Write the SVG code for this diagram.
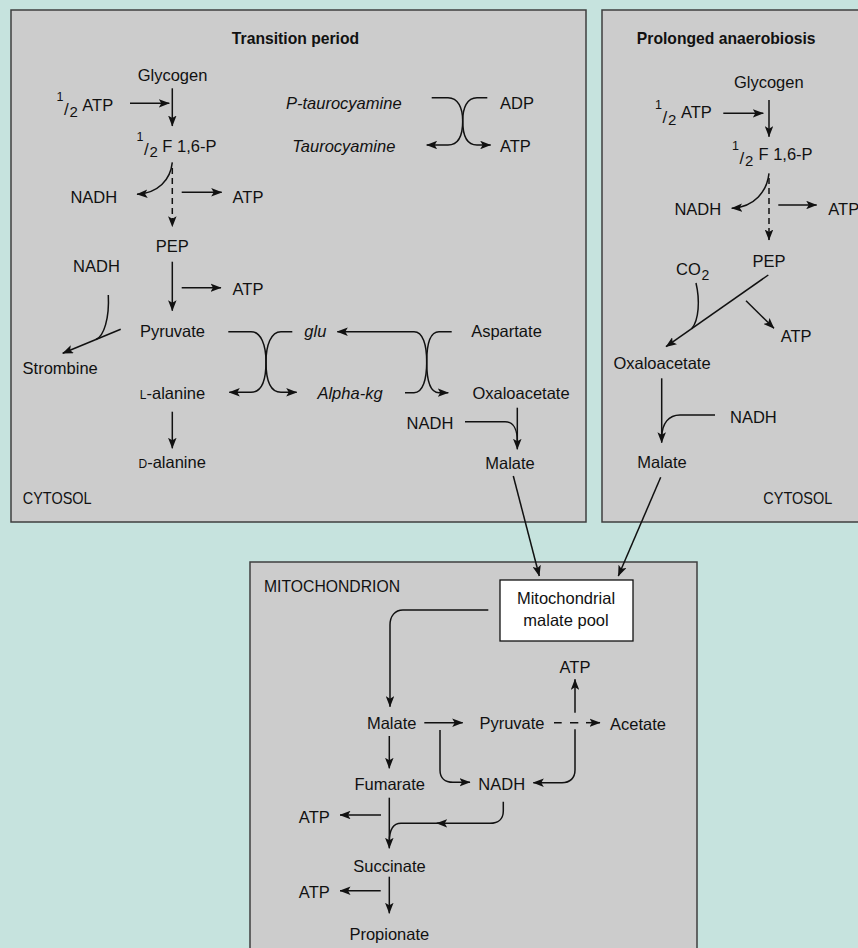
<svg xmlns="http://www.w3.org/2000/svg" width="858" height="948" viewBox="0 0 858 948">
  <style>
    text { font-family: "Liberation Sans", Arial, sans-serif; font-size: 16.5px; fill: #111; }
    .c { text-anchor: middle; }
    .it { font-style: italic; }
    .title { font-weight: bold; font-size: 15.7px; text-anchor: middle; }
    .sup { font-size: 12.5px; }
    .sl { font-size: 17px; }
    .sub { font-size: 15px; }
    .panel { fill: #cccccc; stroke: #3f3f3f; stroke-width: 1.5; }
    .ln { fill: none; stroke: #111; stroke-width: 1.5; }
    .arr { marker-end: url(#ah); }
    .dash { stroke-dasharray: 6 4; }
  </style>
  <defs>
    <marker id="ah" viewBox="0 0 11 8.5" refX="10.5" refY="4.25" markerWidth="11" markerHeight="8.5" markerUnits="userSpaceOnUse" orient="auto-start-reverse">
      <path d="M0,0 L11,4.25 L0,8.5 L2.5,4.25 Z" fill="#111"/>
    </marker>
  </defs>

  <!-- background -->
  <rect x="0" y="0" width="858" height="948" fill="#c6e3de"/>

  <!-- compartments -->
  <g id="panel-transition"><rect class="panel" x="11" y="10" width="575" height="512"/></g>
  <g id="panel-prolonged"><rect class="panel" x="602" y="10" width="270" height="512"/></g>
  <g id="panel-mitochondrion"><rect class="panel" x="250" y="562" width="447" height="400"/></g>

  <!-- ===== Transition period ===== -->
  <g id="t-title"><text class="title" x="295.5" y="44.3">Transition period</text></g>
  <g id="t-glycogen"><text class="c" x="172.5" y="81">Glycogen</text></g>
  <g id="t-halfatp">
    <text class="sup" x="56.5" y="101">1</text>
    <text class="sl" x="64" y="115">/</text>
    <text class="sub" x="69.5" y="117">2</text>
    <text x="82.3" y="111">ATP</text>
  </g>
  <g id="t-f16p">
    <text class="sup" x="136.5" y="141">1</text>
    <text class="sl" x="144" y="155">/</text>
    <text class="sub" x="149.5" y="157">2</text>
    <text x="162.3" y="151.7">F 1,6-P</text>
  </g>
  <g id="t-nadh1"><text class="c" x="93.8" y="202.7">NADH</text></g>
  <g id="t-atp1"><text class="c" x="248" y="202.7">ATP</text></g>
  <g id="t-pep"><text class="c" x="172.3" y="252">PEP</text></g>
  <g id="t-nadh2"><text class="c" x="96.5" y="271.7">NADH</text></g>
  <g id="t-atp2"><text class="c" x="248" y="295">ATP</text></g>
  <g id="t-pyruvate"><text class="c" x="172.5" y="337">Pyruvate</text></g>
  <g id="t-strombine"><text class="c" x="60.2" y="374">Strombine</text></g>
  <g id="t-lalanine"><text class="c" x="172.5" y="398.5"><tspan style="font-size:12px">L</tspan>-alanine</text></g>
  <g id="t-dalanine"><text class="c" x="172.2" y="467.7"><tspan style="font-size:12px">D</tspan>-alanine</text></g>
  <g id="t-cytosol"><text x="22.7" y="504" textLength="69" lengthAdjust="spacingAndGlyphs">CYTOSOL</text></g>
  <g id="t-ptaurocyamine"><text class="c it" x="343.8" y="109.3">P-taurocyamine</text></g>
  <g id="t-taurocyamine"><text class="c it" x="343.8" y="151.7">Taurocyamine</text></g>
  <g id="t-adp"><text x="500" y="109.3">ADP</text></g>
  <g id="t-atp3"><text x="500" y="151.7">ATP</text></g>
  <g id="t-glu"><text class="it" x="304.3" y="337">glu</text></g>
  <g id="t-alphakg"><text class="c it" x="350" y="398.5">Alpha-kg</text></g>
  <g id="t-aspartate"><text class="c" x="506.5" y="337">Aspartate</text></g>
  <g id="t-oxaloacetate"><text class="c" x="521" y="398.5">Oxaloacetate</text></g>
  <g id="t-nadh3"><text class="c" x="430" y="429.3">NADH</text></g>
  <g id="t-malate"><text class="c" x="510" y="469.3">Malate</text></g>

  <!-- ===== Prolonged anaerobiosis ===== -->
  <g id="p-title"><text class="title" x="726.2" y="44.3">Prolonged anaerobiosis</text></g>
  <g id="p-glycogen"><text class="c" x="768.8" y="88.3">Glycogen</text></g>
  <g id="p-halfatp">
    <text class="sup" x="655" y="108.5">1</text>
    <text class="sl" x="662.5" y="122.5">/</text>
    <text class="sub" x="668" y="124.5">2</text>
    <text x="681" y="118.3">ATP</text>
  </g>
  <g id="p-f16p">
    <text class="sup" x="732" y="149.5">1</text>
    <text class="sl" x="739.5" y="163.5">/</text>
    <text class="sub" x="745" y="165.5">2</text>
    <text x="758.5" y="160">F 1,6-P</text>
  </g>
  <g id="p-nadh1"><text class="c" x="697.8" y="215">NADH</text></g>
  <g id="p-atp1"><text x="828.3" y="215">ATP</text></g>
  <g id="p-pep"><text class="c" x="769" y="266.7">PEP</text></g>
  <g id="p-co2">
    <text x="676" y="275">CO</text>
    <text x="701.5" y="280" style="font-size:14px">2</text>
  </g>
  <g id="p-atp2"><text x="780.7" y="341.7">ATP</text></g>
  <g id="p-oxaloacetate"><text class="c" x="662" y="369.3">Oxaloacetate</text></g>
  <g id="p-nadh2"><text x="730" y="422.7">NADH</text></g>
  <g id="p-malate"><text class="c" x="662" y="468.3">Malate</text></g>
  <g id="p-cytosol"><text x="763.3" y="504" textLength="69" lengthAdjust="spacingAndGlyphs">CYTOSOL</text></g>

  <!-- ===== Mitochondrion ===== -->
  <g id="m-label"><text x="264" y="591.7" textLength="136" lengthAdjust="spacingAndGlyphs">MITOCHONDRION</text></g>
  <g id="m-pool">
    <rect x="500" y="580" width="133" height="61" fill="#ffffff" stroke="#111" stroke-width="1.3"/>
    <text class="c" x="566" y="604.3">Mitochondrial</text>
    <text class="c" x="566" y="626">malate pool</text>
  </g>
  <g id="m-malate"><text class="c" x="391.7" y="729.3">Malate</text></g>
  <g id="m-pyruvate"><text class="c" x="512" y="729.3">Pyruvate</text></g>
  <g id="m-acetate"><text class="c" x="638" y="730">Acetate</text></g>
  <g id="m-atp1"><text class="c" x="575" y="673.3">ATP</text></g>
  <g id="m-nadh"><text class="c" x="501.7" y="790">NADH</text></g>
  <g id="m-fumarate"><text class="c" x="389.7" y="790">Fumarate</text></g>
  <g id="m-atp2"><text class="c" x="314.3" y="823.3">ATP</text></g>
  <g id="m-succinate"><text class="c" x="389.5" y="871.7">Succinate</text></g>
  <g id="m-atp3"><text class="c" x="314.3" y="898.3">ATP</text></g>
  <g id="m-propionate"><text class="c" x="389.3" y="940">Propionate</text></g>

  <!-- ===== connectors ===== -->
  <g id="connectors">
    <!-- transition: glycolysis -->
    <path class="ln arr" d="M130,103.3 H169.3"/>
    <path class="ln arr" d="M172.3,88.3 V126"/>
    <path class="ln arr" d="M172.3,162.3 C170.5,180 158,193 137,194.3"/>
    <path class="ln dash arr" d="M172.3,168 V226.7"/>
    <path class="ln arr" d="M181.7,192.3 H221.7"/>
    <path class="ln arr" d="M172.3,261.7 V310.7"/>
    <path class="ln arr" d="M181.7,287.7 H221"/>
    <path class="ln" d="M108.3,295 C109.5,318 104,336.2 96,339.5"/>
    <path class="ln arr" d="M120.7,329.3 L62.7,353.3"/>
    <path class="ln arr" d="M172.3,411.7 V448.3"/>

    <!-- transition: phosphagen exchange -->
    <path class="ln arr" d="M431.7,97.7 H448 C458,97.7 462.7,108 462.7,121 C462.7,134 466,145 477,145 H490.7"/>
    <path class="ln arr" d="M487.3,97.7 H477 C467,97.7 462.7,108 462.7,121 C462.7,134 459,145 448,145 H426.7"/>

    <!-- transition: pyruvate / alanine transamination -->
    <path class="ln arr" d="M228.3,331.7 H251 C261,331.7 266,345 266,362 C266,379 270,392.3 281,392.3 H296.7"/>
    <path class="ln arr" d="M292.3,331.7 H281 C271,331.7 266,345 266,362 C266,379 262,392.3 251,392.3 H229.3"/>

    <!-- transition: aspartate / glutamate transamination -->
    <path class="ln" d="M337.3,331.7 H414 C423,331.7 426.7,345 426.7,362 C426.7,379 430,392.7 439,392.7 H448.3" marker-start="url(#ah)" marker-end="url(#ah)"/>
    <path class="ln" d="M451.7,331.7 H439 C430,331.7 426.7,345 426.7,362 C426.7,379 423,392.7 414,392.7 H405"/>

    <!-- transition: oxaloacetate to malate -->
    <path class="ln arr" d="M517.3,407.7 V449.3"/>
    <path class="ln" d="M465,421.7 H505 C513,421.7 517.3,429 517.3,441"/>

    <!-- prolonged: glycolysis -->
    <path class="ln arr" d="M723.3,113.3 H763.3"/>
    <path class="ln arr" d="M769,100 V136.7"/>
    <path class="ln arr" d="M769,173.3 C767,191 755,207 731.7,208.3"/>
    <path class="ln dash arr" d="M769,178 V240"/>
    <path class="ln arr" d="M778.3,205 H816.7"/>

    <!-- prolonged: PEP carboxykinase -->
    <path class="ln arr" d="M768.3,275 L666,346.7"/>
    <path class="ln" d="M696,283 C700,300 699,320 691.7,328.7"/>
    <path class="ln arr" d="M746,300.7 L774,328.3"/>
    <path class="ln arr" d="M661.7,378.3 V442.7"/>
    <path class="ln" d="M715,415 H680 C669,415 661.7,423 661.7,438"/>

    <!-- cytosolic malate into the mitochondrion -->
    <path class="ln arr" d="M513.3,476 L539.3,576"/>
    <path class="ln arr" d="M660.7,477.3 L618.3,576"/>

    <!-- mitochondrion -->
    <path class="ln arr" d="M488.3,610 H403 C395,610 390,616 390,625 V706.7"/>
    <path class="ln arr" d="M424.3,722.7 H462.7"/>
    <path class="ln" d="M554,722.7 H561.7 M570,722.7 H578.3"/>
    <path class="ln arr" d="M586,722.7 H600"/>
    <path class="ln arr" d="M575,712.7 V679.3"/>
    <path class="ln arr" d="M575,729.3 V770 C575,778 570,782.7 562,782.7 H533.3"/>
    <path class="ln arr" d="M440,730 V770 C440,778 445,782.3 453,782.3 H470"/>
    <path class="ln arr" d="M389.3,736 V768.3"/>
    <path class="ln arr" d="M389.3,797.7 V848.3"/>
    <path class="ln arr" d="M381,815 H340"/>
    <path class="ln arr" d="M503.3,801.7 V811 C503.3,819 498,823.3 490,823.3 H436.7"/>
    <path class="ln" d="M440,823.3 H401 C393,823.3 389.3,830 389.3,842"/>
    <path class="ln arr" d="M389.3,876.7 V913.3"/>
    <path class="ln arr" d="M380.7,890.7 H340"/>
  </g>
</svg>
